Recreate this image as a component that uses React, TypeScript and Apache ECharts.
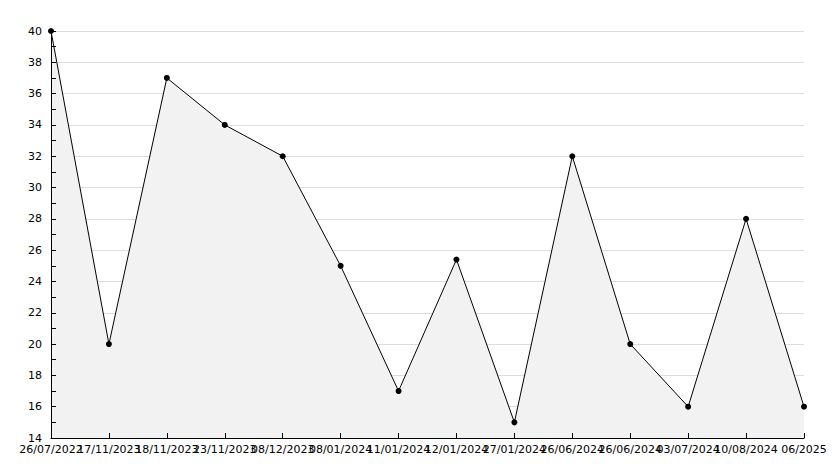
import React, { useEffect, useRef } from "react";
import * as echarts from "echarts";

const categories = [
  "26/07/2022", "17/11/2023", "18/11/2023", "23/11/2023", "08/12/2023", "08/01/2024", "11/01/2024",
  "12/01/2024", "27/01/2024", "26/06/2024", "26/06/2024", "03/07/2024", "10/08/2024", "06/2025",
];
const values = [40, 20, 37, 34, 32, 25, 17, 25.4, 15, 32, 20, 16, 28, 16];
const yMin = 14;
const yMax = 40;
const yStep = 2;

export default function App() {
  const ref = useRef<HTMLDivElement>(null);
  useEffect(() => {
    if (!ref.current) return;
    const chart = echarts.init(ref.current, null, { renderer: "svg" });
    const font = "DejaVu Sans";
    const xBase = {
      type: "category",
      data: categories,
      boundaryGap: false,
      position: "bottom",
      offset: 0,
    };
    const yBase = { type: "value", min: yMin, max: yMax, interval: yStep, position: "left", offset: 0 };
    chart.setOption({
      animation: false,
      backgroundColor: "#ffffff",
      grid: { left: 51, right: 30, top: 31, bottom: 30, containLabel: false },
      xAxis: [
        {
          ...xBase,
          z: 0,
          axisLine: { show: false },
          axisTick: { show: false },
          axisLabel: { show: false },
          splitLine: { show: false },
        },
        {
          ...xBase,
          z: 5,
          axisLine: { show: true, onZero: false, lineStyle: { color: "#000", width: 1 } },
          axisTick: { show: true, inside: true, length: 5, lineStyle: { color: "#000" }, alignWithLabel: true },
          axisLabel: { color: "#000", fontFamily: font, fontSize: 11, margin: 6, interval: 0 },
          splitLine: { show: false },
        },
      ],
      yAxis: [
        {
          ...yBase,
          z: 0,
          axisLine: { show: false },
          axisTick: { show: false },
          axisLabel: { show: false },
          splitLine: { show: true, lineStyle: { color: "#dddddd", width: 1 } },
        },
        {
          ...yBase,
          z: 5,
          axisLine: { show: true, onZero: false, lineStyle: { color: "#000", width: 1 } },
          axisTick: { show: true, inside: true, length: 5, lineStyle: { color: "#000" } },
          minorTick: { show: true, splitNumber: 2, length: 5, lineStyle: { color: "#000" } },
          axisLabel: { color: "#000", fontFamily: font, fontSize: 11, margin: 9 },
          splitLine: { show: false },
        },
      ],
      series: [
        {
          type: "line",
          data: values,
          xAxisIndex: 0,
          yAxisIndex: 0,
          symbol: "circle",
          symbolSize: 6,
          itemStyle: { color: "#000" },
          lineStyle: { color: "#000", width: 1 },
          areaStyle: { color: "#f2f2f2", opacity: 1 },
        },
      ],
    });
    return () => chart.dispose();
  }, []);
  return (
    <div
      ref={ref}
      style={{ position: "absolute", left: 0, top: 0, width: 834, height: 468 }}
    />
  );
}
